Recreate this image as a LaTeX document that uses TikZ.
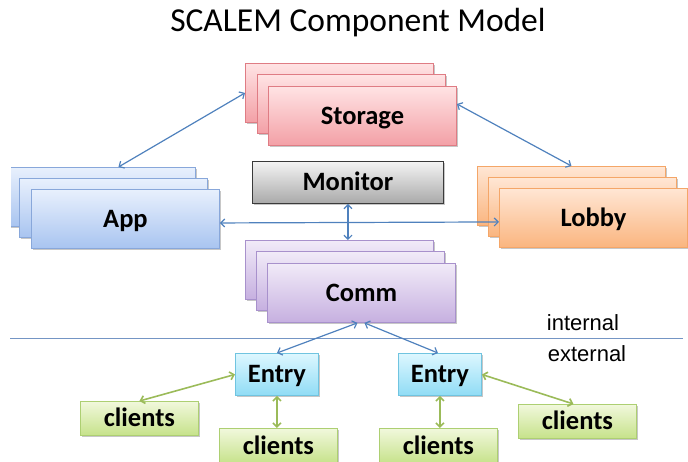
\documentclass[tikz,border=0pt]{standalone}
\usepackage{fontspec}
\setmainfont{Carlito}
\newfontfamily\arialfont{Liberation Sans}
\usetikzlibrary{arrows.meta,shadows}

% fill and line colours of the component boxes
\definecolor{storTop}{HTML}{FFE3E4}\definecolor{storBot}{HTML}{F3A0A6}\definecolor{storLine}{HTML}{DF7C84}
\definecolor{appTop}{HTML}{E8F0FD}\definecolor{appBot}{HTML}{A8C4F0}\definecolor{appLine}{HTML}{88A7DA}
\definecolor{lobTop}{HTML}{FFE6D4}\definecolor{lobBot}{HTML}{FAB57F}\definecolor{lobLine}{HTML}{F4A668}
\definecolor{monTop}{HTML}{F4F4F4}\definecolor{monBot}{HTML}{A9A9A9}\definecolor{monLine}{HTML}{3A3A3A}
\definecolor{comTop}{HTML}{F1EBF8}\definecolor{comBot}{HTML}{C6B0E0}\definecolor{comLine}{HTML}{A891CC}
\definecolor{entTop}{HTML}{DDF7FF}\definecolor{entBot}{HTML}{90DCF5}\definecolor{entLine}{HTML}{70C4E0}
\definecolor{cliTop}{HTML}{F1F8DC}\definecolor{cliBot}{HTML}{C6E28A}\definecolor{cliLine}{HTML}{ADCF72}
\definecolor{arrowBlue}{HTML}{4F81BD}
\definecolor{arrowGreen}{HTML}{9BBB59}
\definecolor{sepColor}{HTML}{7495C4}

\begin{document}
\begin{tikzpicture}[x=1pt,y=-1pt,
  % labels are centred on their capitals
  boxtext/.style={font=\bfseries\fontsize{26.5}{30}\selectfont,
    text height=17pt, text depth=0pt},
  box/.style={draw, line width=0.9pt, anchor=north west, inner sep=0pt, boxtext,
    drop shadow={shadow xshift=1.2pt, shadow yshift=-1.6pt, opacity=0.22, fill=black}},
  bigbox/.style={box, minimum width=188pt, minimum height=59pt},
  storbox/.style={bigbox, draw=storLine, top color=storTop, bottom color=storBot},
  appbox/.style={bigbox, draw=appLine, top color=appTop, bottom color=appBot},
  lobbox/.style={bigbox, draw=lobLine, top color=lobTop, bottom color=lobBot},
  combox/.style={bigbox, draw=comLine, top color=comTop, bottom color=comBot},
  monbox/.style={box, minimum width=191pt, minimum height=42pt, draw=monLine,
    top color=monTop, bottom color=monBot},
  entbox/.style={box, minimum width=83pt, minimum height=42pt, draw=entLine,
    top color=entTop, bottom color=entBot},
  clibox/.style={box, minimum width=118pt, minimum height=34pt, draw=cliLine,
    top color=cliTop, bottom color=cliBot},
  bluelink/.style={draw=arrowBlue, line width=1.2pt, <->,
    >={Straight Barb[length=4pt,width=8pt]}},
  greenlink/.style={draw=arrowGreen, line width=1.6pt, <->,
    >={Straight Barb[length=4pt,width=8pt]}},
  sidelabel/.style={font=\arialfont\fontsize{22}{26}\selectfont, text=black}
]
\useasboundingbox (0,0) rectangle (688,461);

\node (title) at (358,23) {\fontsize{33.5}{38}\selectfont SCALEM Component Model};

\begin{scope}
\clip (11,0) rectangle (688,461);

% Storage stack
\node[storbox] (stoA) at (245,63) {};
\node[storbox] (stoB) at (257,74) {};
\node[storbox] (stoC) at (268,86) {Storage};

% Monitor
\node[monbox] (mon) at (252,161) {Monitor};

% App stack
\node[appbox] (appA) at (7,167) {};
\node[appbox] (appB) at (19,178) {};
\node[appbox] (appC) at (31,189) {App};

% Lobby stack
\node[lobbox] (lobA) at (477,166) {};
\node[lobbox] (lobB) at (488,177) {};
\node[lobbox] (lobC) at (499,188) {Lobby};

% Comm stack
\node[combox] (comA) at (245,240) {};
\node[combox] (comB) at (256,251) {};
\node[combox] (comC) at (267,263) {Comm};

% Entry points and clients
\node[entbox] (ent1) at (235,353) {Entry};
\node[entbox] (ent2) at (398,353) {Entry};
\node[clibox] (cl1) at (80,401) {clients};
\node[clibox, minimum height=35pt] (cl2) at (219,428) {clients};
\node[clibox, minimum height=35pt] (cl3) at (379,428) {clients};
\node[clibox] (cl4) at (518,404) {clients};
\end{scope}

% internal / external boundary
\coordinate (sepL) at (10,338);
\coordinate (sepR) at (683,338);
\draw[sepColor, line width=0.9pt] (sepL) -- (sepR);
\node[sidelabel] (lblInt) at (583,323) {internal};
\node[sidelabel] (lblExt) at (587,354) {external};

% internal connectors
\draw[bluelink] (stoA.west) -- ([xshift=17pt]appA.north);
\draw[bluelink] ([yshift=12pt]stoC.east) -- (lobA.north);
\draw[bluelink] ([yshift=-4pt]appC.east) -- ([yshift=-4pt]lobC.west);
\draw[bluelink] (mon.south) -- (mon.south |- comA.north);
\draw[bluelink] ([xshift=-4pt]comC.south) -- (ent1.north);
\draw[bluelink] ([xshift=3pt]comC.south) -- ([xshift=-2pt]ent2.north);

% client connectors
\draw[greenlink] (ent1.west) -- (cl1.north);
\draw[greenlink] (ent1.south) -- (ent1.south |- cl2.north);
\draw[greenlink] (ent2.east) -- ([xshift=-4pt]cl4.north);
\draw[greenlink] (ent2.south) -- (ent2.south |- cl3.north);
\end{tikzpicture}
\end{document}
